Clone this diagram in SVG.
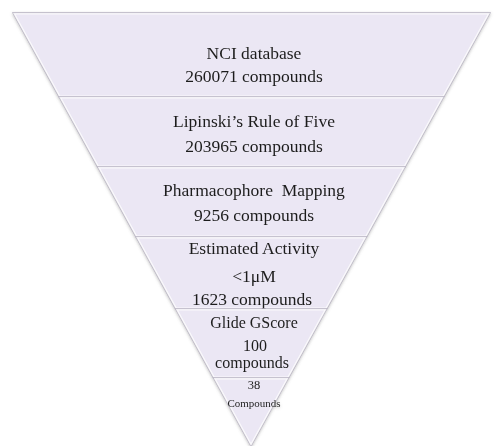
<svg xmlns="http://www.w3.org/2000/svg" xmlns:xlink="http://www.w3.org/1999/xlink" width="495" height="446" viewBox="0 0 495 446">
  <style>
    .band { fill: #ebe7f4; stroke: #b8b3c2; stroke-width: 1.3; }
    .hl { fill: none; stroke: #ffffff; stroke-width: 3; stroke-opacity: 0.8; }
    .t { font-family: "Liberation Serif", "Times New Roman", serif; fill: #1e1e1e; text-anchor: middle; }
    .m { font-size: 17.5px; }
    .s { font-size: 16px; }
  </style>
  <defs>
    <filter id="sh" x="-5%" y="-5%" width="110%" height="110%">
      <feDropShadow dx="0" dy="1" stdDeviation="1.5" flood-color="#777" flood-opacity="0.45"/>
    </filter>
    <polygon id="p1" points="13,13 490,13 443.6,97 59.2,97"/>
    <polygon id="p2" points="59.2,97 443.6,97 405,167 97.7,167"/>
    <polygon id="p3" points="97.7,167 405,167 366.4,237 136.1,237"/>
    <polygon id="p4" points="136.1,237 366.4,237 326.6,309 175.7,309"/>
    <polygon id="p5" points="175.7,309 326.6,309 288.5,378 213.6,378"/>
    <polygon id="p6" points="213.6,378 288.5,378 251,446"/>
    <clipPath id="c1"><use xlink:href="#p1"/></clipPath>
    <clipPath id="c2"><use xlink:href="#p2"/></clipPath>
    <clipPath id="c3"><use xlink:href="#p3"/></clipPath>
    <clipPath id="c4"><use xlink:href="#p4"/></clipPath>
    <clipPath id="c5"><use xlink:href="#p5"/></clipPath>
    <clipPath id="c6"><use xlink:href="#p6"/></clipPath>
  </defs>
  <rect width="495" height="446" fill="#ffffff"/>
  <g filter="url(#sh)">
    <g id="nci">
      <use xlink:href="#p1" class="band"/>
      <use xlink:href="#p1" class="hl" clip-path="url(#c1)"/>
      <text class="t m" x="254" y="59">NCI database</text>
      <text class="t m" x="254" y="82">260071 compounds</text>
    </g>
    <g id="lipinski">
      <use xlink:href="#p2" class="band"/>
      <use xlink:href="#p2" class="hl" clip-path="url(#c2)"/>
      <text class="t m" x="254" y="127">Lipinski’s Rule of Five</text>
      <text class="t m" x="254" y="152">203965 compounds</text>
    </g>
    <g id="pharmacophore">
      <use xlink:href="#p3" class="band"/>
      <use xlink:href="#p3" class="hl" clip-path="url(#c3)"/>
      <text class="t m" x="254" y="196" xml:space="preserve">Pharmacophore  Mapping</text>
      <text class="t m" x="254" y="221">9256 compounds</text>
    </g>
    <g id="activity">
      <use xlink:href="#p4" class="band"/>
      <use xlink:href="#p4" class="hl" clip-path="url(#c4)"/>
      <text class="t m" x="254" y="254">Estimated Activity</text>
      <text class="t m" x="254" y="282">&lt;1μM</text>
      <text class="t m" x="252" y="305">1623 compounds</text>
    </g>
    <g id="glide">
      <use xlink:href="#p5" class="band"/>
      <use xlink:href="#p5" class="hl" clip-path="url(#c5)"/>
      <text class="t s" x="254" y="328">Glide GScore</text>
      <text class="t s" x="255" y="351">100</text>
      <text class="t s" x="252" y="368">compounds</text>
    </g>
    <g id="final">
      <use xlink:href="#p6" class="band"/>
      <use xlink:href="#p6" class="hl" clip-path="url(#c6)"/>
      <text class="t" x="254" y="389" font-size="12.5">38</text>
      <text class="t" x="254" y="407" font-size="10" textLength="53" lengthAdjust="spacingAndGlyphs">Compounds</text>
    </g>
  </g>
</svg>
